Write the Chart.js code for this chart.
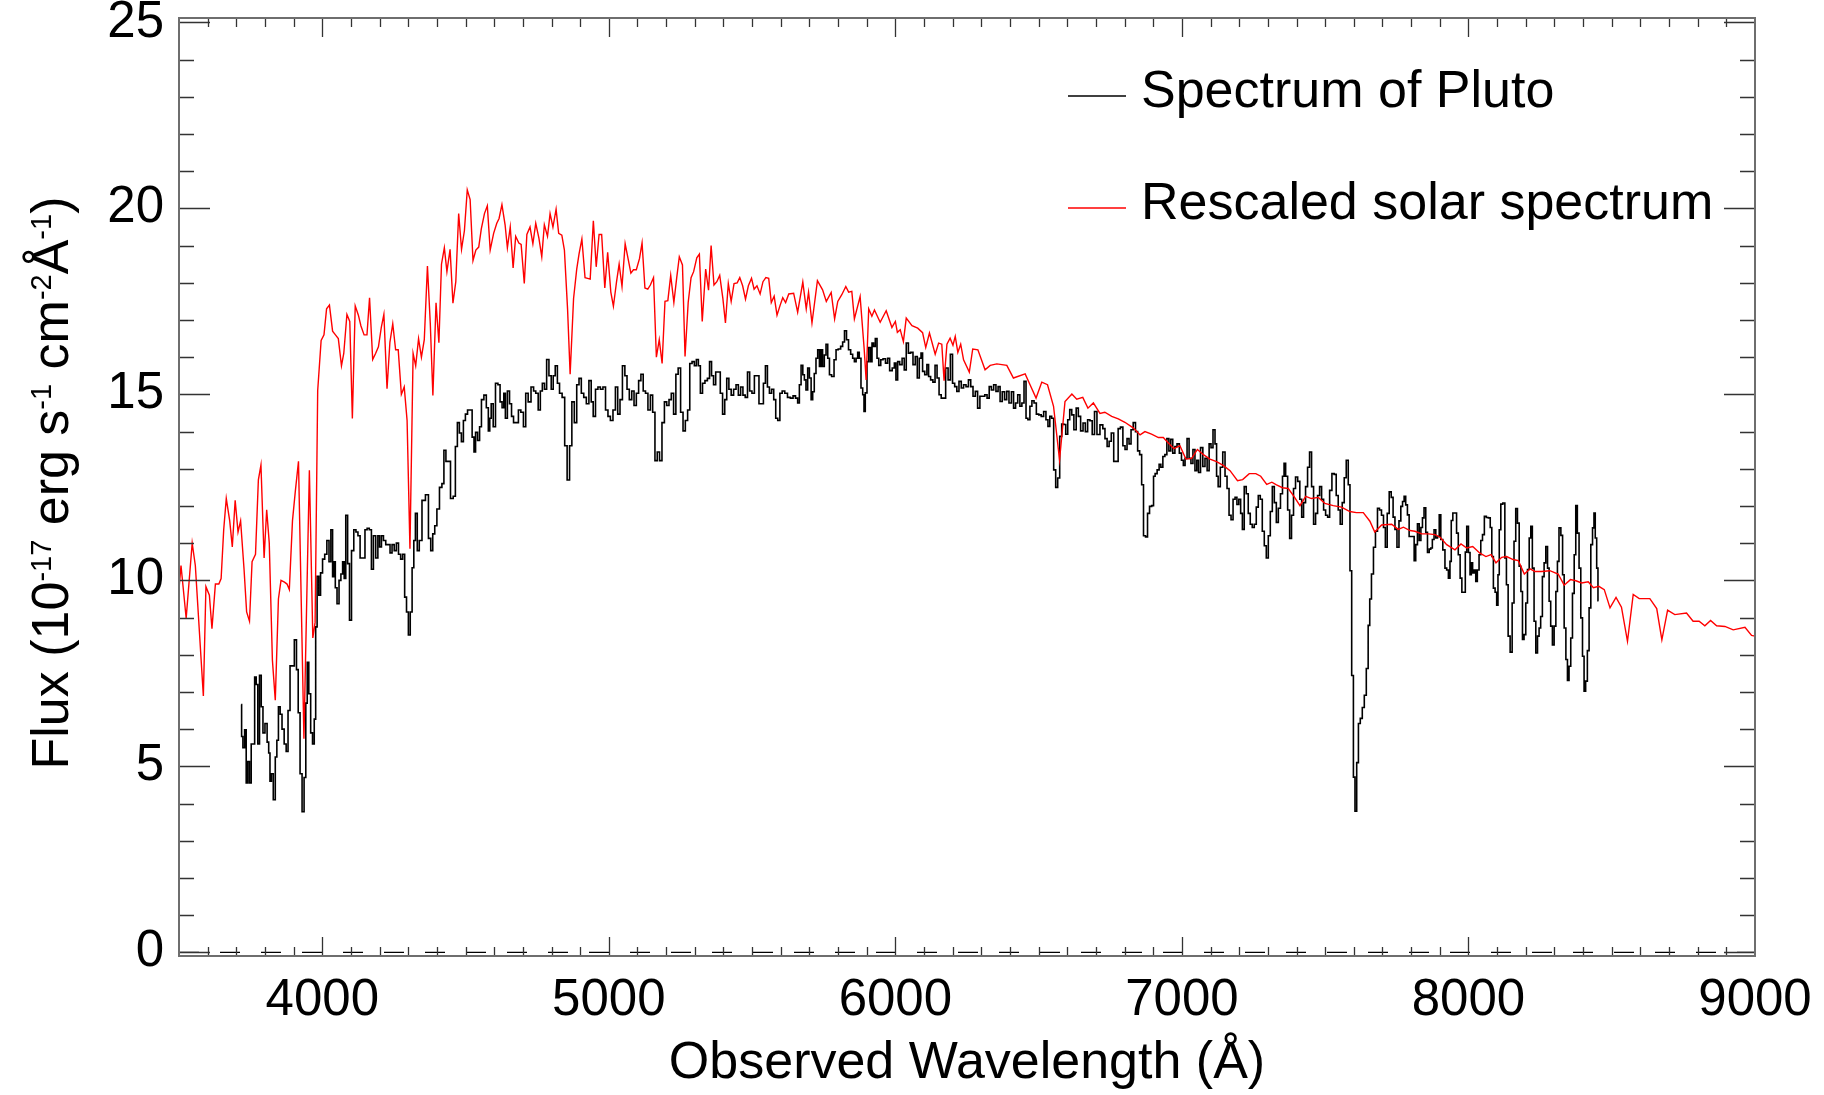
<!DOCTYPE html>
<html>
<head>
<meta charset="utf-8">
<title>Spectrum of Pluto</title>
<script src="https://cdn.jsdelivr.net/npm/chart.js@4.4.1/dist/chart.umd.min.js"></script>
<style>
  html, body { margin: 0; padding: 0; background: #fff; }
  #wrap { width: 1824px; height: 1095px; }
</style>
</head>
<body>
<div id="wrap"><canvas id="spec" width="1824" height="1095"></canvas></div>
<script>
// ===== DATA =====

// Pluto spectrum, histogram style (wavelength in Angstrom, flux in 1e-17 erg/s/cm2/A)
const plutoWave = [
  3717,3720,3726,3732,3737,3743,3749,3755,3761,3767,
  3772,3778,3784,3790,3796,3804,3811,3815,3820,3825,
  3833,3839,3844,3850,3856,3863,3871,3877,3884,3891,
  3898,3907,3913,3919,3926,3933,3940,3945,3950,3956,
  3963,3969,3975,3979,3985,3991,3997,4005,4012,4020,
  4027,4033,4039,4043,4048,4055,4062,4068,4074,4079,
  4085,4092,4098,4106,4114,4121,4128,4136,4145,4153,
  4160,4168,4175,4182,4191,4197,4203,4210,4217,4226,
  4233,4240,4247,4255,4262,4270,4277,4284,4291,4297,
  4304,4310,4317,4322,4328,4335,4342,4354,4366,4375,
  4382,4389,4396,4404,4414,4421,4428,4435,4442,4453,
  4461,4468,4475,4482,4489,4496,4503,4511,4519,4527,
  4532,4538,4546,4552,4559,4569,4576,4583,4586,4593,
  4600,4609,4617,4624,4631,4636,4642,4650,4657,4664,
  4671,4681,4688,4698,4706,4714,4723,4734,4741,4749,
  4758,4764,4772,4779,4787,4795,4803,4809,4817,4824,
  4832,4842,4850,4859,4867,4875,4884,4892,4900,4908,
  4917,4926,4935,4942,4949,4958,4966,4975,4984,4993,
  5001,5010,5019,5027,5035,5043,5052,5060,5067,5076,
  5084,5092,5100,5108,5116,5124,5132,5141,5149,5157,
  5165,5173,5181,5190,5198,5206,5214,5222,5230,5238,
  5246,5255,5263,5271,5279,5286,5295,5302,5309,5316,
  5323,5331,5340,5348,5355,5362,5369,5377,5385,5393,
  5401,5408,5415,5423,5431,5440,5448,5456,5464,5472,
  5480,5488,5495,5504,5512,5520,5528,5536,5543,5550,
  5557,5564,5572,5579,5586,5593,5601,5609,5619,5628,
  5639,5647,5656,5662,5668,5674,5680,5685,5691,5697,
  5703,5709,5714,5720,5726,5732,5738,5743,5749,5755,
  5761,5767,5773,5782,5790,5796,5805,5813,5819,5826,
  5833,5840,5848,5854,5860,5866,5871,5877,5883,5889,
  5892,5898,5904,5910,5916,5921,5927,5933,5939,5945,
  5953,5961,5970,5976,5984,5994,5999,6005,6011,6019,
  6028,6034,6042,6049,6057,6066,6073,6080,6087,6092,
  6098,6107,6113,6119,6127,6135,6142,6149,6156,6164,
  6171,6180,6188,6196,6203,6211,6218,6226,6234,6242,
  6251,6259,6267,6275,6283,6291,6299,6308,6316,6324,
  6331,6339,6347,6355,6362,6369,6377,6385,6392,6401,
  6409,6416,6423,6431,6438,6445,6453,6459,6466,6473,
  6480,6488,6496,6505,6513,6522,6529,6536,6542,6549,
  6556,6563,6570,6577,6584,6591,6598,6605,6612,6619,
  6627,6635,6642,6651,6659,6667,6675,6683,6691,6699,
  6708,6720,6728,6735,6743,6749,6758,6766,6774,6781,
  6790,6798,6805,6812,6819,6826,6834,6842,6849,6856,
  6863,6869,6877,6883,6891,6898,6904,6909,6918,6923,
  6930,6937,6944,6951,6958,6964,6972,6979,6987,6995,
  7002,7008,7014,7022,7028,7035,7042,7049,7055,7061,
  7069,7077,7084,7092,7098,7105,7112,7119,7123,7130,
  7138,7147,7154,7161,7168,7175,7182,7189,7195,7202,
  7208,7214,7221,7228,7235,7242,7249,7256,7263,7270,
  7277,7284,7291,7298,7305,7312,7319,7326,7333,7340,
  7348,7354,7359,7365,7373,7379,7386,7393,7400,7408,
  7415,7421,7428,7435,7442,7449,7456,7463,7470,7477,
  7484,7491,7498,7505,7512,7519,7528,7535,7542,7549,
  7556,7563,7570,7577,7584,7589,7596,7601,7607,7613,
  7619,7626,7633,7640,7647,7653,7658,7665,7672,7679,
  7686,7693,7700,7707,7713,7720,7727,7734,7740,7747,
  7754,7761,7767,7773,7778,7784,7790,7796,7808,7813,
  7819,7825,7831,7837,7842,7848,7854,7860,7866,7871,
  7877,7883,7889,7895,7901,7906,7915,7921,7927,7933,
  7938,7942,7949,7956,7961,7968,7974,7980,7987,7991,
  7997,8003,8008,8012,8017,8023,8028,8034,8040,8046,
  8052,8059,8066,8073,8079,8084,8090,8096,8101,8105,
  8110,8116,8124,8130,8135,8142,8149,8156,8162,8168,
  8174,8180,8186,8191,8197,8203,8209,8215,8220,8226,
  8232,8238,8244,8249,8255,8261,8267,8273,8279,8284,
  8290,8296,8302,8308,8313,8319,8326,8331,8337,8343,
  8348,8354,8360,8366,8372,8377,8383,8389,8395,8401,
  8406,8412,8418,8424,8430,8436,8440,8445,8450,8454
];
const plutoFlux = [
  6.66,5.8,5.5,5.98,4.55,5.13,4.55,5.6,5.6,7.4,
  7.2,5.6,7.45,6.6,5.9,6.15,5.65,5.36,4.6,4.8,
  4.1,5.25,5.7,6.6,6.4,6.0,5.6,5.4,6.5,7.7,
  7.7,8.4,7.6,6.44,4.8,3.78,4.7,6.7,7.8,6.95,
  5.9,5.6,6.27,8.75,10.11,9.6,10.2,10.57,10.7,11.07,
  10.5,11.36,10.1,10.5,9.8,9.37,10.0,10.17,10.5,10.05,
  11.75,10.45,8.93,10.8,11.36,11.3,11.2,10.6,10.6,11.36,
  11.4,11.36,10.3,11.2,10.6,11.2,10.9,11.2,11.07,10.96,
  10.96,10.74,10.96,10.8,11.0,10.7,10.57,10.7,9.55,9.15,
  8.53,9.15,10.34,11.07,11.8,10.8,11.07,12.15,12.3,11.13,
  10.8,11.25,11.47,11.92,12.5,12.6,13.5,13.2,13.2,12.2,
  12.26,13.6,14.24,13.96,13.73,14.3,14.47,14.58,14.58,13.85,
  13.45,13.98,13.76,14.13,14.86,14.98,14.64,14.02,14.36,14.75,
  14.13,15.3,15.26,14.8,14.64,15.03,14.36,15.09,14.75,14.41,
  14.24,14.24,14.58,14.52,14.13,15.03,14.8,15.2,15.09,15.03,
  14.58,15.09,15.3,15.14,15.94,15.5,15.14,15.5,15.77,15.3,
  15.03,14.92,13.62,12.7,13.62,14.8,14.24,15.26,15.43,15.03,
  14.92,14.75,15.37,14.8,14.41,15.14,15.2,15.14,15.2,14.58,
  14.41,14.3,14.58,15.2,14.47,14.86,15.77,15.5,15.14,14.86,
  15.09,14.7,15.03,15.37,15.54,15.09,15.03,14.58,14.98,14.52,
  13.22,13.45,13.22,14.24,14.8,14.7,14.86,15.03,14.47,15.54,
  15.71,14.52,14.02,14.3,14.58,15.83,15.88,15.77,15.94,15.77,
  15.03,15.3,15.37,15.43,15.88,15.5,15.26,15.6,15.6,15.03,
  14.47,14.86,15.43,15.14,14.98,15.14,15.26,14.98,15.2,14.98,
  14.92,15.6,15.09,15.03,15.5,15.5,14.75,14.75,15.3,15.77,
  15.2,15.03,15.14,14.86,14.36,14.3,15.03,15.09,15.03,14.92,
  14.9,14.96,14.9,14.77,15.26,15.78,15.53,15.39,15.12,15.71,
  15.44,14.86,15.07,15.56,15.97,16.2,15.75,16.2,15.75,16.06,
  16.35,15.97,15.53,15.48,15.93,16.2,16.22,16.29,16.41,16.71,
  16.47,16.2,16.08,15.97,15.88,15.97,16.13,15.97,15.17,14.99,
  14.54,15.04,15.88,16.26,15.88,16.38,16.29,16.5,15.97,15.78,
  15.93,15.96,15.84,15.97,15.64,15.71,15.84,15.39,15.88,15.8,
  15.97,15.66,16.38,16.11,16.13,15.8,16.02,15.44,15.97,16.11,
  15.62,15.53,15.8,15.48,15.39,15.33,15.78,15.44,14.99,14.9,
  14.9,15.71,15.39,16.08,15.3,15.21,15.08,15.35,15.17,15.26,
  15.21,15.39,15.21,14.95,15.08,14.63,14.95,14.95,14.99,14.9,
  15.21,15.12,15.26,15.08,15.21,14.81,15.07,14.86,15.08,14.77,
  15.07,14.63,14.77,14.99,14.68,14.77,15.35,14.36,14.32,14.68,
  14.83,14.77,14.47,14.45,14.41,14.54,14.32,14.14,14.41,14.36,
  12.97,12.5,12.75,13.87,14.2,14.19,13.93,14.32,14.59,14.45,
  14.05,14.63,14.41,14.02,14.23,14.0,14.32,14.29,13.92,14.54,
  13.92,14.18,14.08,13.81,13.6,13.74,13.96,13.2,13.2,14.08,
  14.12,13.62,13.52,13.81,13.67,14.05,14.24,14.0,13.48,13.38,
  12.57,11.2,11.17,11.8,11.99,12.01,12.8,12.87,12.97,13.12,
  13.04,13.33,13.38,13.81,13.48,13.79,13.42,13.6,13.67,13.42,
  13.23,13.09,13.28,13.81,13.28,13.14,13.52,12.95,13.23,12.9,
  13.57,13.06,13.28,12.95,13.67,13.57,14.05,13.67,12.8,12.52,
  13.04,13.45,12.8,12.47,11.75,11.63,12.18,12.23,12.04,12.18,
  11.8,11.37,12.52,12.33,11.8,11.51,11.42,11.51,11.97,12.28,
  12.18,11.32,10.93,10.6,11.2,11.85,12.52,12.09,11.56,11.94,
  12.33,12.8,13.15,12.8,11.89,11.13,11.75,12.47,12.78,12.66,
  12.18,11.7,12.09,12.52,13.04,13.45,12.52,11.51,11.8,12.28,
  12.52,12.18,11.89,11.75,11.7,12.42,12.87,12.85,12.28,11.89,
  11.51,12.09,12.76,13.23,12.57,10.26,7.44,4.71,3.79,5.1,
  6.15,6.29,6.58,6.91,7.63,8.79,9.5,10.17,10.89,11.32,
  11.94,11.89,11.75,11.42,10.89,11.8,12.38,12.23,11.7,11.37,
  10.89,11.6,11.99,12.12,12.26,12.03,11.76,11.18,11.18,10.53,
  10.96,11.52,11.07,11.42,11.68,11.95,11.29,10.75,10.84,10.87,
  11.1,11.36,11.14,11.18,11.76,11.1,10.82,10.33,10.28,10.06,
  10.51,11.61,11.81,11.81,11.27,10.69,10.06,9.68,9.68,10.76,
  11.45,10.75,10.15,10.47,10.2,10.28,9.97,10.28,10.69,11.07,
  11.23,11.72,11.69,11.68,11.42,10.64,9.79,9.68,9.33,10.15,
  11.36,12.05,12.08,10.6,9.88,8.5,8.07,9.39,11.05,11.93,
  11.54,10.38,9.7,8.41,8.54,9.39,10.29,11.14,11.45,10.33,
  8.9,8.05,8.5,8.72,9.03,10.1,10.47,10.91,10.33,9.44,
  8.77,8.26,8.77,9.7,10.51,11.41,11.21,10.15,8.72,7.87,
  7.31,7.69,8.45,9.65,10.69,12.01,11.27,10.33,8.99,7.96,
  7.02,7.29,8.11,9.26,10.96,11.41,11.81,11.14,10.33,9.45
];

// rescaled solar spectrum
const solarWave = [
  3500,3507,3525,3546,3557,3585,3594,3606,3615,3627,
  3639,3647,3656,3665,3677,3686,3696,3706,3715,3727,
  3736,3746,3755,3767,3777,3786,3797,3806,3815,3826,
  3836,3847,3856,3868,3877,3885,3896,3906,3917,3936,
  3955,3967,3975,3984,3996,4006,4015,4025,4036,4046,
  4056,4067,4075,4086,4096,4105,4115,4126,4135,4146,
  4156,4165,4176,4186,4196,4206,4215,4226,4236,4246,
  4256,4265,4276,4286,4296,4306,4317,4326,4336,4346,
  4356,4367,4377,4386,4397,4407,4416,4426,4435,4446,
  4456,4466,4476,4486,4496,4506,4516,4526,4536,4546,
  4555,4566,4576,4586,4598,4609,4617,4627,4638,4646,
  4656,4666,4675,4686,4694,4705,4714,4725,4735,4745,
  4756,4766,4775,4786,4795,4805,4816,4825,4836,4845,
  4856,4865,4877,4888,4896,4906,4917,4926,4935,4946,
  4956,4966,4975,4986,4996,5007,5016,5027,5036,5046,
  5057,5066,5077,5086,5096,5107,5116,5126,5136,5145,
  5156,5166,5176,5186,5196,5206,5216,5227,5237,5246,
  5257,5266,5277,5287,5296,5307,5316,5326,5338,5348,
  5357,5367,5377,5387,5398,5407,5417,5427,5437,5448,
  5457,5467,5477,5487,5498,5507,5517,5528,5538,5548,
  5558,5567,5577,5587,5598,5607,5617,5628,5645,5659,
  5677,5689,5697,5709,5728,5746,5759,5776,5788,5799,
  5813,5827,5837,5848,5857,5877,5891,5898,5907,5918,
  5927,5947,5968,5988,6000,6007,6017,6028,6038,6058,
  6078,6095,6106,6119,6139,6151,6162,6170,6180,6191,
  6201,6209,6218,6228,6238,6258,6270,6288,6313,6331,
  6354,6389,6412,6453,6470,6491,6511,6531,6552,6573,
  6592,6616,6633,6654,6672,6691,6714,6731,6755,6778,
  6801,6830,6854,6871,6894,6918,6935,6952,6972,6993,
  7014,7034,7054,7075,7098,7121,7144,7168,7194,7212,
  7235,7258,7275,7296,7314,7330,7351,7371,7391,7412,
  7432,7452,7476,7499,7528,7557,7586,7609,7633,7656,
  7673,7697,7732,7755,7773,7796,7813,7837,7860,7883,
  7901,7924,7953,7974,7994,8015,8040,8061,8079,8096,
  8116,8133,8156,8174,8195,8215,8232,8255,8284,8313,
  8334,8356,8375,8395,8418,8436,8455,8474,8494,8515,
  8534,8555,8575,8596,8633,8657,8675,8695,8720,8761,
  8784,8805,8825,8845,8866,8895,8924,8965,8988,9000
];
const solarFlux = [
  9.77,10.4,8.98,11.0,10.4,6.89,9.83,9.6,8.7,9.9,
  9.9,10.05,11.36,12.2,11.6,10.9,12.15,11.3,11.6,10.3,
  9.15,8.9,10.5,10.7,12.7,13.1,10.6,11.9,11.0,7.85,
  6.78,9.5,10.0,9.95,9.9,9.75,11.6,12.4,13.2,5.74,
  12.96,8.45,8.87,15.1,16.45,16.6,17.3,17.4,16.7,16.6,
  16.5,15.77,16.1,17.15,16.96,14.35,17.38,17.13,16.84,16.6,
  16.6,17.6,15.94,16.1,16.28,16.8,17.15,15.15,16.4,16.9,
  16.2,16.2,15.0,15.2,14.3,10.85,16.1,15.77,16.5,16.0,
  16.47,18.45,16.9,14.97,17.46,16.39,18.5,18.94,18.3,18.9,
  17.45,18.03,19.86,18.9,19.4,20.5,20.24,18.6,18.88,18.96,
  19.45,19.86,20.07,18.88,19.33,19.6,19.73,20.1,19.56,18.94,
  19.5,18.4,19.25,19.07,19.03,17.98,19.3,19.5,19.05,19.6,
  19.2,18.7,19.56,19.25,19.86,19.5,19.98,19.33,19.28,18.88,
  17.3,15.54,17.58,18.37,18.77,19.18,18.14,18.12,18.1,19.67,
  18.43,19.3,19.3,17.86,18.82,17.75,17.37,18.03,18.5,17.9,
  19.05,18.7,18.26,18.35,18.35,18.65,19.07,17.86,17.83,17.94,
  18.14,16.0,16.47,15.83,17.5,17.52,18.2,17.47,18.14,18.7,
  18.48,16.02,17.47,18.14,18.3,18.67,18.77,16.96,18.37,17.8,
  19.0,17.94,18.03,18.2,17.58,16.92,17.98,17.5,17.98,18.0,
  18.14,17.92,17.56,17.92,18.12,17.83,17.92,17.7,18.03,18.14,
  18.12,17.47,17.64,17.13,17.4,17.6,17.47,17.7,17.72,17.21,
  18.02,17.3,17.75,16.92,18.06,17.81,17.5,17.74,17.03,17.5,
  17.68,17.9,17.75,17.77,17.03,17.63,16.24,15.39,17.3,17.1,
  17.27,16.94,17.25,16.8,16.96,16.67,16.74,16.42,17.05,16.85,
  16.78,16.66,16.26,16.65,16.08,16.38,16.35,15.37,16.35,16.51,
  16.32,16.56,16.13,16.35,15.93,15.6,16.22,16.2,15.66,15.78,
  15.82,15.78,15.44,15.55,15.26,14.9,15.33,15.26,14.68,13.24,
  14.81,15.01,14.87,14.92,14.63,14.77,14.49,14.52,14.41,14.34,
  14.25,14.1,13.91,14.0,13.93,13.84,13.84,13.7,13.54,13.62,
  13.26,13.28,13.52,13.38,13.26,13.19,13.09,12.95,12.68,12.71,
  12.87,12.87,12.8,12.58,12.64,12.57,12.49,12.47,12.26,12.01,
  12.26,12.2,12.23,12.07,12.01,11.97,11.85,11.82,11.82,11.59,
  11.3,11.49,11.51,11.37,11.43,11.34,11.32,11.25,11.25,11.23,
  11.16,10.96,10.82,10.98,10.87,10.91,10.73,10.64,10.69,10.47,
  10.62,10.64,10.56,10.53,10.17,10.31,10.24,10.24,10.26,10.17,
  9.87,10.02,9.99,9.93,9.96,9.8,9.84,9.75,9.26,9.54,
  9.28,8.36,9.62,9.51,9.51,9.24,8.4,9.2,9.08,9.12,
  8.9,8.9,8.78,8.92,8.78,8.76,8.67,8.74,8.52,8.5
];

// dashed zero level, axis ticks
const zeroWave = [3500, 9000];
const xTicks = [4000, 5000, 6000, 7000, 8000, 9000];
const yTicks = [0, 5, 10, 15, 20, 25];

const FONT = '"Liberation Sans", Arial, Helvetica, sans-serif';

function pairs(xs, ys) {
  return xs.map((x, i) => ({ x: x, y: ys[i] }));
}

// IDL-like frame: box, inward ticks on four sides, legend, axis titles
const framePlugin = {
  id: 'frame',
  afterDraw(chart) {
    const { ctx, chartArea: a, scales } = chart;
    const x = scales.x, y = scales.y;
    ctx.save();

    ctx.strokeStyle = '#333';
    ctx.lineWidth = 1.3;
    ctx.beginPath();
    for (let w = 3600; w < 9000; w += 100) {
      const px = Math.round(x.getPixelForValue(w)) + 0.5;
      const len = w % 1000 === 0 ? 19 : 9;
      ctx.moveTo(px, a.bottom); ctx.lineTo(px, a.bottom - len);
      ctx.moveTo(px, a.top); ctx.lineTo(px, a.top + len);
    }
    for (let v = 0; v <= 25; v++) {
      const py = Math.round(y.getPixelForValue(v)) + 0.5;
      const len = v % 5 === 0 ? 31 : 15;
      ctx.moveTo(a.left, py); ctx.lineTo(a.left + len, py);
      ctx.moveTo(a.right, py); ctx.lineTo(a.right - len, py);
    }
    ctx.stroke();

    ctx.strokeStyle = '#6e6e6e';
    ctx.lineWidth = 2;
    ctx.strokeRect(a.left, a.top, a.right - a.left, a.bottom - a.top);

    // legend
    const items = [
      ['Spectrum of Pluto', '#000000', 96, 107],
      ['Rescaled solar spectrum', '#ff0000', 208, 219]
    ];
    ctx.font = '52px ' + FONT;
    ctx.textAlign = 'left';
    ctx.textBaseline = 'alphabetic';
    items.forEach(([txt, col, ly, ty]) => {
      ctx.strokeStyle = col;
      ctx.lineWidth = 1.4;
      ctx.beginPath();
      ctx.moveTo(1068, ly); ctx.lineTo(1126, ly);
      ctx.stroke();
      ctx.fillStyle = '#000';
      ctx.fillText(txt, 1141, ty);
    });

    // x title
    ctx.textAlign = 'center';
    ctx.fillText('Observed Wavelength (\u00C5)', (a.left + a.right) / 2, 1078);

    // y title with superscripts
    const parts = [
      ['Flux (10', 0], ['-17', 1], [' erg s', 0], ['-1', 1],
      [' cm', 0], ['-2', 1], ['\u00C5', 0], ['-1', 1], [')', 0]
    ];
    const big = '52px ' + FONT, small = '29px ' + FONT;
    let total = 0;
    parts.forEach(([t, s]) => { ctx.font = s ? small : big; total += ctx.measureText(t).width; });
    ctx.translate(68, 483);
    ctx.rotate(-Math.PI / 2);
    ctx.textAlign = 'left';
    let cx = -total / 2;
    parts.forEach(([t, s]) => {
      ctx.font = s ? small : big;
      ctx.fillText(t, cx, s ? -17 : 0);
      cx += ctx.measureText(t).width;
    });

    ctx.restore();
  }
};

new Chart(document.getElementById('spec'), {
  type: 'line',
  data: {
    datasets: [
      {
        label: 'Rescaled solar spectrum',
        data: pairs(solarWave, solarFlux),
        borderColor: '#ff0000', borderWidth: 1.4,
        pointRadius: 0, fill: false, order: 1
      },
      {
        label: 'Spectrum of Pluto',
        data: pairs(plutoWave, plutoFlux),
        borderColor: '#000000', borderWidth: 1.6,
        stepped: 'middle', pointRadius: 0, fill: false, order: 2
      },
      {
        label: 'zero',
        data: zeroWave.map(w => ({ x: w, y: 0 })),
        borderColor: '#000000', borderWidth: 1.3, borderDash: [20, 21],
        pointRadius: 0, fill: false, order: 3
      }
    ]
  },
  options: {
    responsive: false,
    animation: false,
    devicePixelRatio: 1,
    layout: { padding: { top: 18, right: 69, left: 0, bottom: 0 }, autoPadding: false },
    plugins: { legend: { display: false }, tooltip: { enabled: false } },
    scales: {
      x: {
        type: 'linear', min: 3500, max: 9000,
        grid: { display: false, drawTicks: false },
        border: { display: false },
        afterBuildTicks: s => { s.ticks = xTicks.map(v => ({ value: v })); },
        afterFit: s => { s.height = 139; s.paddingLeft = 0; s.paddingRight = 0; },
        ticks: {
          font: { family: FONT, size: 51 }, color: '#000', padding: 14,
          maxRotation: 0, autoSkip: false, callback: v => String(v)
        }
      },
      y: {
        type: 'linear', min: -0.1, max: 25.12,
        grid: { display: false, drawTicks: false },
        border: { display: false },
        afterBuildTicks: s => { s.ticks = yTicks.map(v => ({ value: v })); },
        afterFit: s => { s.width = 179; s.paddingTop = 0; s.paddingBottom = 0; },
        ticks: {
          font: { family: FONT, size: 51 }, color: '#000', padding: 15,
          autoSkip: false, callback: v => String(v)
        }
      }
    }
  },
  plugins: [framePlugin]
});
</script>
</body>
</html>
